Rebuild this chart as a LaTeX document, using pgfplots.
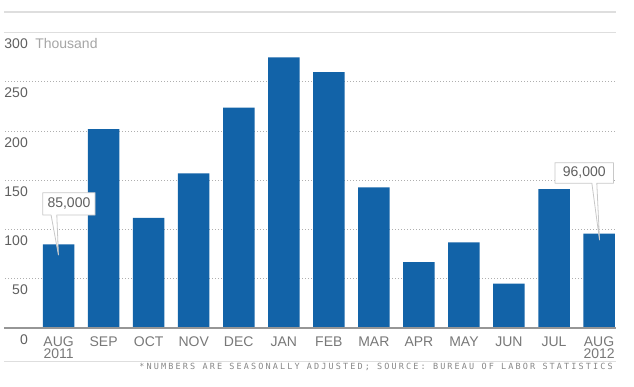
\documentclass[border=0pt]{standalone}
\usepackage{fontspec}
\setmainfont{Liberation Sans}
\newfontfamily\footfont[LetterSpace=25]{DejaVu Sans Mono}
\usepackage{pgfplots}
\pgfplotsset{compat=1.18}
\definecolor{barblue}{RGB}{18,99,168}
\definecolor{tickgray}{RGB}{95,95,95}
\definecolor{monthgray}{RGB}{120,120,120}
\definecolor{thougray}{RGB}{165,165,165}
\definecolor{gridgray}{RGB}{175,175,175}
\definecolor{lightline}{RGB}{222,222,222}
\definecolor{basegray}{RGB}{150,150,150}
\definecolor{boxgray}{RGB}{200,200,200}
\definecolor{footgray}{RGB}{135,135,135}
\begin{document}
\begin{tikzpicture}
\path[use as bounding box] (0,0) rectangle (634bp,387bp);
\begin{axis}[
  at={(4bp,59bp)}, anchor=south west,
  scale only axis, width=612bp, height=316bp,
  xmin=-1.2124, xmax=12.376, ymin=0, ymax=321.1,
  axis line style={draw=none}, tick style={draw=none},
  clip=false,
  ybar, bar width=31.5bp,
  /pgf/number format/assume math mode=true,
  ytick={0,50,100,150,200,250,300},
  yticklabel style={anchor=base east, inner sep=0pt, xshift=24bp, yshift=-16bp,
    text=tickgray, font=\fontsize{14bp}{16bp}\selectfont},
  xtick={0,...,12},
  xticklabels={{AUG\\2011},SEP,OCT,NOV,DEC,JAN,FEB,MAR,APR,MAY,JUN,JUL,{AUG\\2012}},
  xticklabel style={align=center, anchor=north, inner sep=0pt, yshift=-4bp,
    text=monthgray, font=\fontsize{14bp}{12.7bp}\selectfont},
]
% grid lines
\foreach \v in {50,100,150,200,250}{
  \edef\temp{\noexpand\draw[gridgray, line width=1bp, dash pattern=on 1.2bp off 1.8bp]
    (axis cs:-1.19,\v) -- (axis cs:12.35,\v);}
  \temp
}
\draw[lightline, line width=1.2bp] (axis cs:-1.2124,300) -- (axis cs:12.376,300);
\draw[lightline, line width=1.2bp] (axis cs:-1.2124,321.1) -- (axis cs:12.376,321.1);
\draw[lightline, line width=1bp] (axis cs:-1.2124,-34.2) -- (axis cs:12.376,-34.2);

\addplot[fill=barblue, draw=none] coordinates {
  (0,85) (1,202) (2,112) (3,157) (4,224) (5,275) (6,260)
  (7,143) (8,67) (9,87) (10,45) (11,141) (12,96)
};

\draw[basegray, line width=1.2bp] (axis cs:-1.2124,0) -- (axis cs:12.376,0);

% Thousand label
\node[anchor=base west, inner sep=0pt, yshift=-16bp, text=thougray,
  font=\fontsize{14bp}{16bp}\selectfont] at (axis cs:-0.522,300) {Thousand};

% callout 85,000
\draw[boxgray, fill=white, line width=0.8bp, line join=round]
  (axis cs:-0.351,137.5) -- (axis cs:0.810,137.5) -- (axis cs:0.810,114.8)
  -- (axis cs:-0.04,114.8) -- (axis cs:-0.004,74.2) -- (axis cs:-0.167,114.8)
  -- (axis cs:-0.351,114.8) -- cycle;
\node[text=tickgray, inner sep=0pt, font=\fontsize{14bp}{16bp}\selectfont]
  at (axis cs:0.2295,126.15) {85,000};

% callout 96,000
\draw[boxgray, fill=white, line width=0.8bp, line join=round]
  (axis cs:11.02,168.0) -- (axis cs:12.32,168.0) -- (axis cs:12.32,147.1)
  -- (axis cs:11.95,147.1) -- (axis cs:12.01,89.4) -- (axis cs:11.84,147.1)
  -- (axis cs:11.02,147.1) -- cycle;
\node[text=tickgray, inner sep=0pt, font=\fontsize{14bp}{16bp}\selectfont]
  at (axis cs:11.67,157.55) {96,000};

% footnote
\node[anchor=east, inner sep=0pt, text=footgray,
  font=\footfont\fontsize{8.5bp}{10bp}\selectfont]
  at (axis cs:12.31,-39.6) {*NUMBERS ARE SEASONALLY ADJUSTED; SOURCE: BUREAU OF LABOR STATISTICS};
\end{axis}
\end{tikzpicture}
\end{document}
